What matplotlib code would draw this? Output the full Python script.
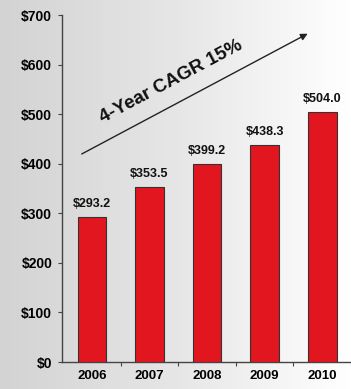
import numpy as np
import matplotlib
matplotlib.use("Agg")
import matplotlib.pyplot as plt

plt.rcParams['font.family'] = ['Liberation Sans', 'DejaVu Sans']

# Revenue by year ($M)
years = ['2006', '2007', '2008', '2009', '2010']
revenue = [293.2, 353.5, 399.2, 438.3, 504.0]
y_ticks = [0, 100, 200, 300, 400, 500, 600, 700]
cagr_label = '4-Year CAGR 15%'

fig = plt.figure(figsize=(3.51, 3.89), dpi=100)

# gray-to-white horizontal background
bg = fig.add_axes([0, 0, 1, 1])
grad = np.linspace(0, 1, 256).reshape(1, -1)
bg.imshow(grad, aspect='auto', cmap=matplotlib.colors.LinearSegmentedColormap.from_list(
    'bg', ['#d3d3d3', '#e6e6e6', '#ffffff']), extent=[0, 1, 0, 1])
bg.set_axis_off()

ax = fig.add_axes([0.1766, 0.0694, 0.8234, 0.892])
ax.patch.set_alpha(0)
x = np.arange(len(years))
ax.bar(x, revenue, width=0.5, color='#e2161f', edgecolor='#333333', linewidth=0.8, zorder=3)

for xi, v in zip(x, revenue):
    ax.text(xi, v + 14, f'${v:.1f}', ha='center', va='bottom',
            fontsize=9, fontweight='bold', color='#111111')

ax.set_xlim(-0.52, 4.47)
ax.set_ylim(0, 700)
ax.set_yticks(y_ticks)
ax.set_yticklabels([f'${t}' for t in y_ticks], fontsize=10, fontweight='bold')
ax.set_xticks(x + 0.5)
ax.set_xticklabels([])
ax.set_xticks(x, minor=True)
ax.set_xticklabels(years, minor=True, fontsize=9.5, fontweight='bold')
ax.tick_params(axis='x', which='minor', length=0, pad=6)
ax.tick_params(axis='x', which='major', length=3, direction='out', color='#444444')
ax.tick_params(axis='y', length=3, direction='out', color='#444444', pad=4)

for side in ['top', 'right']:
    ax.spines[side].set_visible(False)
for side in ['left', 'bottom']:
    ax.spines[side].set_color('#444444')
    ax.spines[side].set_linewidth(1.0)

# growth arrow
ax.annotate('', xy=(3.79, 665), xytext=(-0.22, 417),
            arrowprops=dict(arrowstyle='-|>', color='#222222', lw=1.0,
                            mutation_scale=10), zorder=4)
ax.text(1.38, 566, cagr_label, rotation=28, ha='center', va='center',
        fontsize=13.5, fontweight='bold', color='#111111', rotation_mode='anchor')

fig.savefig('out.png', dpi=100)
